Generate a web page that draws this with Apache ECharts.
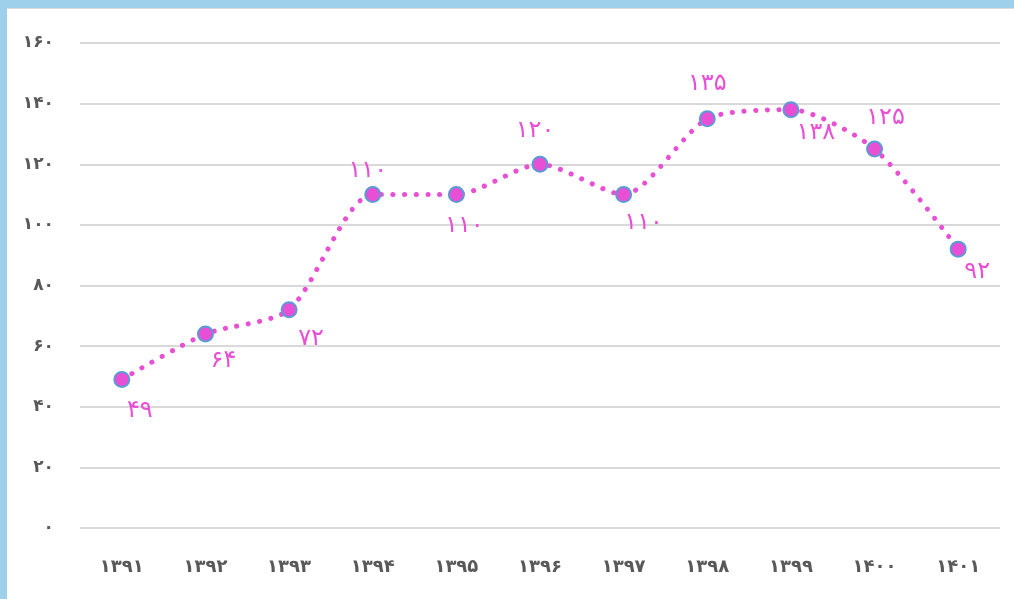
<!DOCTYPE html>
<html>
<head>
<meta charset="utf-8">
<script src="https://cdn.jsdelivr.net/npm/echarts@6/dist/echarts.min.js"></script>
<style>
  html, body { margin: 0; padding: 0; background: #9fd0eb; overflow: hidden; }
  #chart { position: absolute; left: 7px; top: 8px; width: 1007px; height: 591px;
           background: #fff; border-top: 1px solid #d9d9d9; }
</style>
</head>
<body>
<div id="chart"></div>
<script>
// سال‌ها و مقادیر
var years = [1391, 1392, 1393, 1394, 1395, 1396, 1397, 1398, 1399, 1400, 1401];
var values = [49, 64, 72, 110, 110, 120, 110, 135, 138, 125, 92];
var yTicks = [0, 20, 40, 60, 80, 100, 120, 140, 160];

// جای برچسب هر نقطه نسبت به نشانگر
var labelOffsets = [[18, 31], [18, 27], [22, 29], [-5, -24], [8, 31], [-5, -33],
                    [20, 28], [0, -35], [25, 23], [11, -31], [19, 23]];

var pink = '#e84fd5';
var axisGray = '#595959';

function fa(n) {
  return String(n).replace(/[0-9]/g, function (d) { return '۰۱۲۳۴۵۶۷۸۹'[+d]; });
}

var myChart = echarts.init(document.getElementById('chart'));

myChart.setOption({
  animation: false,
  grid: { left: 73, right: 14, top: 34, bottom: 72 },
  xAxis: {
    type: 'category',
    data: years.map(String),
    axisLine: { show: false },
    axisTick: { show: false },
    axisLabel: {
      margin: 30,
      fontSize: 18,
      fontWeight: 'bold',
      fontFamily: 'DejaVu Sans',
      color: axisGray,
      formatter: function (v) { return fa(v); }
    }
  },
  yAxis: {
    type: 'value',
    min: yTicks[0],
    max: yTicks[yTicks.length - 1],
    interval: 20,
    axisLine: { show: false },
    axisTick: { show: false },
    splitLine: { lineStyle: { color: '#d9d9d9', width: 2 } },
    axisLabel: {
      margin: 26,
      fontSize: 17,
      fontWeight: 'bold',
      fontFamily: 'DejaVu Sans',
      color: axisGray,
      formatter: function (v) { return fa(v); }
    }
  },
  series: [{
    type: 'line',
    smooth: 0.25,
    symbol: 'circle',
    symbolSize: 15,
    itemStyle: { color: pink, borderColor: '#5b9bd5', borderWidth: 2 },
    lineStyle: { color: pink, width: 5, type: [0.1, 11.5], cap: 'round' },
    data: values.map(function (v, i) {
      return {
        value: v,
        label: {
          show: true,
          position: 'inside',
          offset: labelOffsets[i],
          fontSize: 24,
          fontFamily: 'DejaVu Sans',
          color: pink,
          formatter: function (p) { return fa(p.value); }
        }
      };
    })
  }]
});
</script>
</body>
</html>
